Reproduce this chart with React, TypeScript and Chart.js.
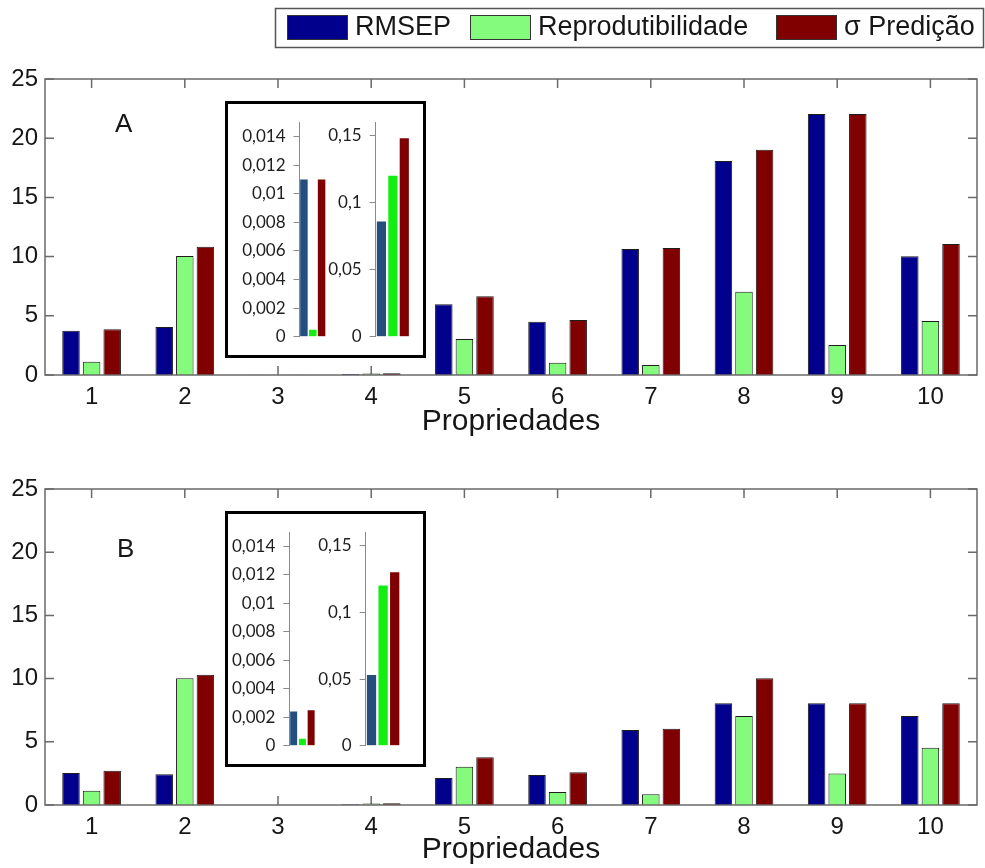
import React, { useEffect, useRef } from "react";
import { Chart, registerables } from "chart.js";

Chart.register(...registerables);

// ---- data ----
const categories = ["1", "2", "3", "4", "5", "6", "7", "8", "9", "10"];
const seriesNames = ["RMSEP", "Reprodutibilidade", "σ Predição"];

const rmsepA = [3.74, 4.05, 0.011, 0.086, 5.97, 4.5, 10.64, 18.07, 22.04, 10.02];
const reprodA = [1.12, 10.05, 0.0005, 0.12, 3.04, 1.04, 0.84, 7.04, 2.53, 4.56];
const predA = [3.86, 10.84, 0.011, 0.148, 6.65, 4.64, 10.73, 19.03, 22.04, 11.06];

const rmsepB = [2.53, 2.43, 0.0024, 0.053, 2.14, 2.37, 5.93, 8.04, 8.04, 7.04];
const reprodB = [1.13, 10.02, 0.0005, 0.12, 3.03, 1.03, 0.85, 7.04, 2.5, 4.53];
const predB = [2.71, 10.31, 0.0025, 0.13, 3.77, 2.59, 6.04, 10.02, 8.04, 8.04];

const smallTicks = [0, 0.002, 0.004, 0.006, 0.008, 0.01, 0.012, 0.014];
const mediumTicks = [0, 0.05, 0.1, 0.15];

// ---- styling ----
const FONT = '"Liberation Sans", Arial, Helvetica, sans-serif';
const INSET_FONT = 'Lato, "Open Sans", sans-serif';
const TEXT = "#161616";
const FRAME = "#6a6a6a";
const MAIN_COLORS = ["#00008c", "#84fb7c", "#800000"];
const INSET_COLORS = ["#234e7d", "#12ee12", "#7e0000"];

const fmtComma = (v: number) => String(v).replace(".", ",");

// Box frame with inward tick marks on all four sides, plus the panel letter
function makeFrame(letter: string, lx: number, ly: number) {
  return {
    id: "boxFrame",
    beforeDatasetsDraw(chart: any) {
      const { ctx, chartArea: a, scales } = chart;
      const len = 9;
      ctx.save();
      ctx.strokeStyle = FRAME;
      ctx.lineWidth = 1.5;
      ctx.beginPath();
      scales.x.ticks.forEach((_: any, i: number) => {
        const px = scales.x.getPixelForTick(i);
        ctx.moveTo(px, a.top);
        ctx.lineTo(px, a.top + len);
        ctx.moveTo(px, a.bottom);
        ctx.lineTo(px, a.bottom - len);
      });
      scales.y.ticks.forEach((t: any) => {
        const py = scales.y.getPixelForValue(t.value);
        ctx.moveTo(a.left, py);
        ctx.lineTo(a.left + len, py);
        ctx.moveTo(a.right, py);
        ctx.lineTo(a.right - len, py);
      });
      ctx.stroke();
      ctx.restore();
    },
    afterDatasetsDraw(chart: any) {
      const { ctx, chartArea: a } = chart;
      ctx.save();
      ctx.strokeStyle = FRAME;
      ctx.lineWidth = 1.5;
      ctx.strokeRect(a.left, a.top, a.right - a.left, a.bottom - a.top);
      ctx.fillStyle = TEXT;
      ctx.font = `26px ${FONT}`;
      ctx.textBaseline = "alphabetic";
      ctx.fillText(letter, lx, ly);
      ctx.restore();
    },
  };
}

// Boxed legend across the top right
const legendBox = {
  id: "legendBox",
  afterDraw(chart: any) {
    const ctx = chart.ctx;
    const starts = [287, 470, 776];
    ctx.save();
    ctx.strokeStyle = "#555";
    ctx.lineWidth = 1.5;
    ctx.strokeRect(275.5, 8.5, 708, 39);
    ctx.font = `27px ${FONT}`;
    ctx.textBaseline = "middle";
    chart.data.datasets.forEach((ds: any, i: number) => {
      const x = starts[i];
      ctx.fillStyle = ds.backgroundColor;
      ctx.fillRect(x, 15, 61, 25);
      ctx.strokeStyle = "#333";
      ctx.lineWidth = 1;
      ctx.strokeRect(x + 0.5, 15.5, 60, 24);
      ctx.fillStyle = TEXT;
      ctx.fillText(ds.label, x + 68, 28);
    });
    ctx.restore();
  },
};

function mainConfig(
  values: number[][],
  topPad: number,
  axisHeight: number,
  letter: string,
  lx: number,
  ly: number,
  withLegend: boolean
): any {
  const plugins: any[] = [makeFrame(letter, lx, ly)];
  if (withLegend) plugins.push(legendBox);
  return {
    type: "bar",
    data: {
      labels: categories,
      datasets: values.map((d, i) => ({
        label: seriesNames[i],
        data: d,
        backgroundColor: MAIN_COLORS[i],
        borderColor: "#1c1c1c",
        borderWidth: 1,
      })),
    },
    plugins,
    options: {
      responsive: false,
      animation: false,
      devicePixelRatio: 1,
      layout: { padding: { top: topPad, right: 8, bottom: 0, left: 0 } },
      datasets: { bar: { categoryPercentage: 0.663, barPercentage: 0.85 } },
      plugins: { legend: { display: false }, tooltip: { enabled: false } },
      scales: {
        x: {
          grid: { display: false, drawTicks: false },
          border: { display: false },
          ticks: { font: { family: FONT, size: 24 }, color: TEXT, padding: 8, maxRotation: 0 },
          title: {
            display: true,
            text: "Propriedades",
            font: { family: FONT, size: 30, lineHeight: 1.2 },
            color: TEXT,
            padding: { top: 0, bottom: 0 },
          },
          afterFit: (s: any) => {
            s.height = axisHeight;
          },
        },
        y: {
          min: 0,
          max: 25,
          grid: { display: false, drawTicks: false },
          border: { display: false },
          ticks: { stepSize: 5, font: { family: FONT, size: 24 }, color: TEXT, padding: 7 },
          afterFit: (s: any) => {
            s.width = 45;
          },
        },
      },
    },
  };
}

function insetConfig(
  values: number[][],
  index: number,
  ticks: number[],
  max: number,
  barPct: number,
  axisWidth: number,
  pad: { top: number; right: number; bottom: number }
): any {
  return {
    type: "bar",
    data: {
      labels: [categories[index]],
      datasets: values.map((d, i) => ({
        label: seriesNames[i],
        data: [d[index]],
        backgroundColor: INSET_COLORS[i],
        borderWidth: 0,
      })),
    },
    options: {
      responsive: false,
      animation: false,
      devicePixelRatio: 1,
      layout: { padding: { top: pad.top, right: pad.right, bottom: pad.bottom, left: 0 } },
      datasets: { bar: { categoryPercentage: 1, barPercentage: barPct } },
      plugins: { legend: { display: false }, tooltip: { enabled: false } },
      scales: {
        x: { display: false },
        y: {
          min: 0,
          max,
          afterBuildTicks: (s: any) => {
            s.ticks = ticks.map((v) => ({ value: v }));
          },
          ticks: {
            callback: (v: any) => fmtComma(Number(v)),
            font: { family: INSET_FONT, size: 17 },
            color: "#1e1e1e",
            padding: 8,
          },
          grid: { drawOnChartArea: false, drawTicks: true, tickLength: 6, color: "#8a8a8a" },
          border: { display: true, color: "#8a8a8a", width: 1 },
          afterFit: (s: any) => {
            s.width = axisWidth;
          },
        },
      },
    },
  };
}

function ChartCanvas(props: { left: number; top: number; width: number; height: number; build: () => any }) {
  const ref = useRef<HTMLCanvasElement>(null);
  useEffect(() => {
    const chart = new Chart(ref.current as HTMLCanvasElement, props.build());
    return () => chart.destroy();
  }, []);
  return (
    <canvas
      ref={ref}
      width={props.width}
      height={props.height}
      style={{ position: "absolute", left: props.left, top: props.top, width: props.width, height: props.height }}
    />
  );
}

function InsetBox(props: { left: number; top: number; width: number; height: number }) {
  return (
    <div
      style={{
        position: "absolute",
        left: props.left,
        top: props.top,
        width: props.width,
        height: props.height,
        border: "3px solid #000",
        boxSizing: "border-box",
        background: "#fff",
      }}
    />
  );
}

export default function App() {
  const seriesA = [rmsepA, reprodA, predA];
  const seriesB = [rmsepB, reprodB, predB];
  return (
    <div style={{ position: "absolute", left: 0, top: 0, width: 985, height: 868, background: "#fff", overflow: "hidden" }}>
      <ChartCanvas left={0} top={0} width={985} height={440} build={() => mainConfig(seriesA, 79, 65, "A", 115, 132, true)} />
      <ChartCanvas left={0} top={440} width={985} height={428} build={() => mainConfig(seriesB, 49, 63, "B", 117, 117, false)} />

      <InsetBox left={225} top={101} width={201} height={257} />
      <ChartCanvas
        left={228}
        top={104}
        width={100}
        height={251}
        build={() => insetConfig(seriesA, 2, smallTicks, 0.015, 0.85, 71.5, { top: 17.7, right: 2, bottom: 13.3 })}
      />
      <ChartCanvas
        left={310}
        top={104}
        width={113}
        height={251}
        build={() => insetConfig(seriesA, 3, mediumTicks, 0.16, 0.8, 65.7, { top: 17.7, right: 13, bottom: 13.3 })}
      />

      <InsetBox left={225} top={511} width={201} height={256} />
      <ChartCanvas
        left={228}
        top={514}
        width={92}
        height={250}
        build={() => insetConfig(seriesB, 2, smallTicks, 0.015, 0.8, 61.3, { top: 16.7, right: 4.5, bottom: 13 })}
      />
      <ChartCanvas
        left={300}
        top={514}
        width={123}
        height={250}
        build={() => insetConfig(seriesB, 3, mediumTicks, 0.16, 0.8, 65.7, { top: 16.7, right: 22.5, bottom: 13 })}
      />
    </div>
  );
}
